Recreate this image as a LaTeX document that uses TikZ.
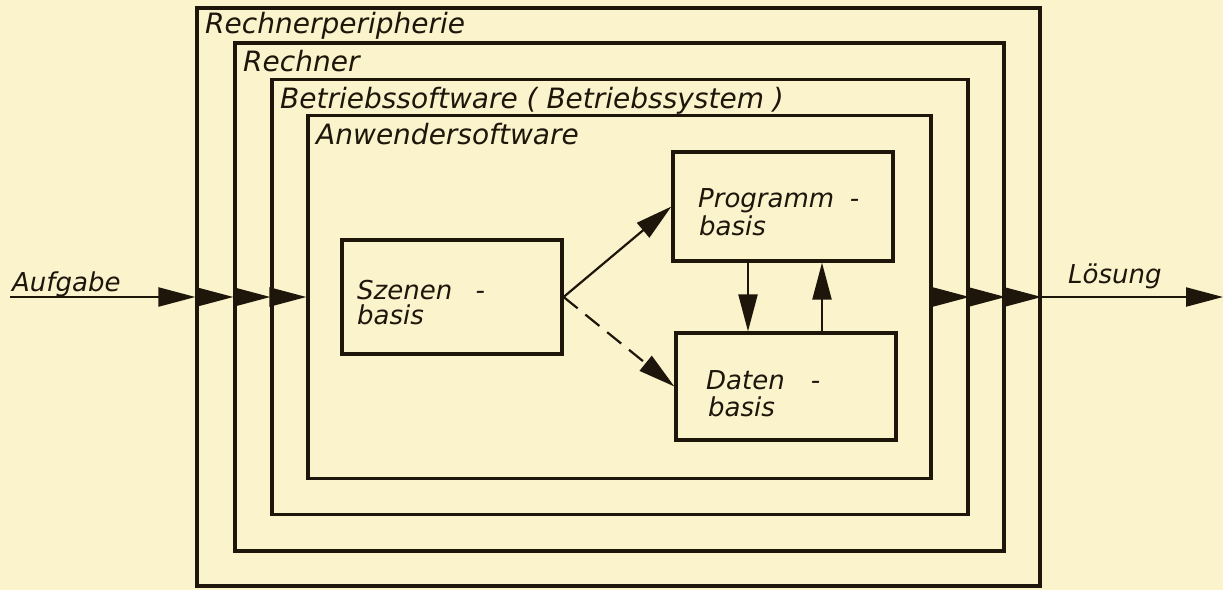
\documentclass[tikz,border=0pt]{standalone}
\usepackage{fontspec}
\setmainfont{DejaVu Sans}
\usetikzlibrary{arrows.meta}
\definecolor{paper}{RGB}{250,243,204}
\definecolor{ink}{RGB}{30,22,10}
\begin{document}
\begin{tikzpicture}[x=1pt,y=-1pt,
  layer/.style={draw=ink, line width=3.2pt, rectangle, inner sep=0pt},
  title/.style={font=\itshape\fontsize{28}{30}\selectfont, text=ink, inner sep=0pt, anchor=base west},
  txt/.style={font=\itshape\fontsize{26}{28}\selectfont, text=ink, inner sep=0pt, anchor=base west},
  conn/.style={draw=ink, line width=2.2pt, -{Triangle[length=37pt,width=19pt]}},
  dashconn/.style={conn, dash pattern=on 18pt off 10pt}
]
\fill[paper] (0,0) rectangle (1223,590);
\useasboundingbox (0,0) rectangle (1223,590);

% nested layers
\node[layer, minimum width=843pt, minimum height=578pt] (b1) at (618.5,297) {};
\node[layer, minimum width=769pt, minimum height=508pt] (b2) at (619.5,297) {};
\node[layer, minimum width=696pt, minimum height=435pt] (b3) at (620,297) {};
\node[layer, minimum width=623pt, minimum height=363pt] (b4) at (619.5,297) {};

\node[title] (t1) at (205,33) {Rechnerperipherie};
\node[title] (t2) at (243,71) {Rechner};
\node[title] (t3) at (280,108) {Betriebssoftware ( Betriebssystem )};
\node[title] (t4) at (316,144) {Anwendersoftware};

% inner blocks
\node[layer, minimum width=220pt, minimum height=114pt] (sz) at (452,297) {};
\node[layer, minimum width=220pt, minimum height=109pt] (pr) at (783,206.5) {};
\node[layer, minimum width=220pt, minimum height=107pt] (da) at (786,386.5) {};

\node[txt] (sz1) at (357,299) {Szenen\hspace{0.9em}-};
\node[txt] (sz2) at (357,324) {basis};
\node[txt] (pr1) at (698,207) {Programm\hspace{0.6em}-};
\node[txt] (pr2) at (699,235) {basis};
\node[txt] (da1) at (706,389) {Daten\hspace{1em}-};
\node[txt] (da2) at (708,416) {basis};

% connectors inside
\draw[conn] (sz.east) -- (pr.west);
\draw[dashconn] (sz.east) -- (da.west);
\coordinate (dx) at (748,0);
\coordinate (ux) at (822,0);
\draw[conn] (pr.south -| dx) -- (da.north -| dx);
\draw[conn] (da.north -| ux) -- (pr.south -| ux);

% input chain
\coordinate (ain) at (10,297);
\node[txt] (lin) at (12,291) {Aufgabe};
\draw[conn] (ain) -- (b1.west);
\draw[conn] (b1.west) -- (b2.west);
\draw[conn] (b2.west) -- (b3.west);
\draw[conn] (b3.west) -- (b4.west);

% output chain
\coordinate (aout) at (1223,297);
\node[txt] (lout) at (1068,283) {Lösung};
\draw[conn] (b4.east) -- (b3.east);
\draw[conn] (b3.east) -- (b2.east);
\draw[conn] (b2.east) -- (b1.east);
\draw[conn] (b1.east) -- (aout);
\end{tikzpicture}
\end{document}
